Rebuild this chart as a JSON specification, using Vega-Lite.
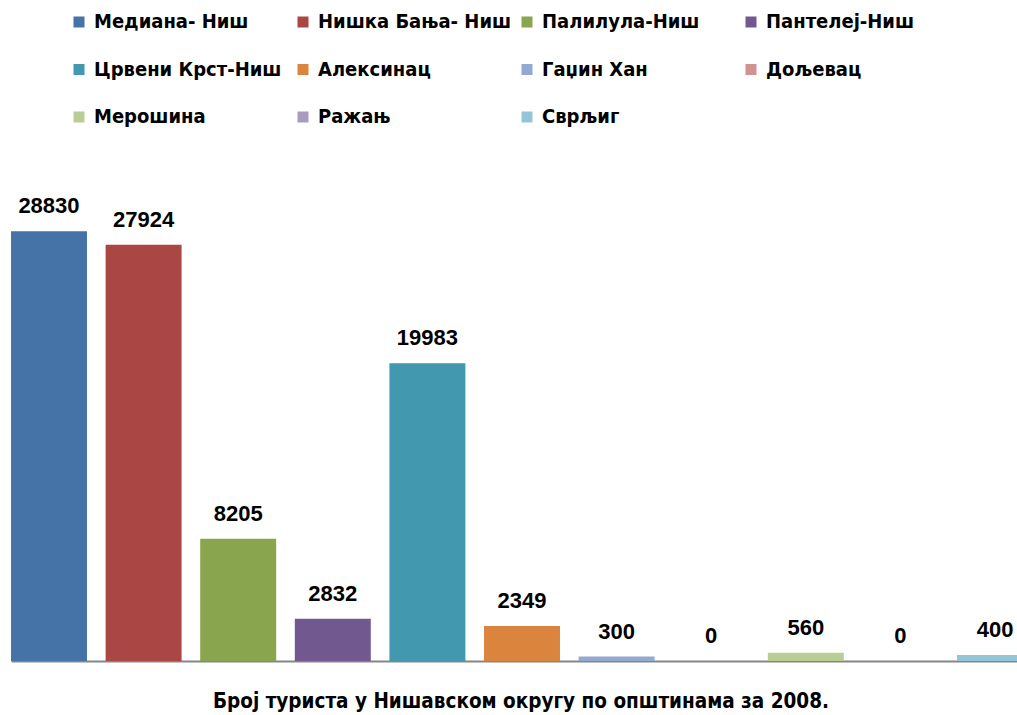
{
  "$schema": "https://vega.github.io/schema/vega-lite/v6.json",
  "width": 1006,
  "height": 477,
  "autosize": {"type": "none"},
  "padding": {"left": 11, "top": 184, "right": 0, "bottom": 54},
  "background": "white",
  "title": {
    "text": "Број туриста у Нишавском округу по општинама за 2008.",
    "orient": "bottom",
    "anchor": "middle",
    "offset": 31,
    "dx": 7,
    "font": "DejaVu Sans Condensed, sans-serif",
    "fontSize": 20.5,
    "fontWeight": "bold",
    "color": "black"
  },
  "data": {
    "values": [
      {"opstina": "Медиана- Ниш", "turisti": 28830},
      {"opstina": "Нишка Бања- Ниш", "turisti": 27924},
      {"opstina": "Палилула-Ниш", "turisti": 8205},
      {"opstina": "Пантелеј-Ниш", "turisti": 2832},
      {"opstina": "Црвени Крст-Ниш", "turisti": 19983},
      {"opstina": "Алексинац", "turisti": 2349},
      {"opstina": "Гаџин Хан", "turisti": 300},
      {"opstina": "Дољевац", "turisti": 0},
      {"opstina": "Мерошина", "turisti": 560},
      {"opstina": "Ражањ", "turisti": 0},
      {"opstina": "Сврљиг", "turisti": 400}
    ]
  },
  "encoding": {
    "x": {
      "field": "opstina",
      "type": "nominal",
      "sort": null,
      "scale": {"range": [0, 1022], "paddingInner": 0.197, "paddingOuter": 0},
      "axis": {"labels": false, "ticks": false, "title": null, "domainColor": "#868686", "domainWidth": 2, "grid": false}
    },
    "y": {
      "field": "turisti",
      "type": "quantitative",
      "scale": {"domain": [0, 32000]},
      "axis": null
    }
  },
  "layer": [
    {
      "mark": {"type": "bar"},
      "encoding": {
        "color": {
          "field": "opstina",
          "type": "nominal",
          "sort": null,
          "scale": {
            "range": ["#4572A7", "#AA4643", "#89A54E", "#71588F", "#4198AF", "#DB843D", "#93A9CF", "#D19392", "#B9CD96", "#A99BBD", "#92C5D8"]
          },
          "legend": {
            "orient": "none",
            "direction": "horizontal",
            "legendX": 58,
            "legendY": -172,
            "columns": 4,
            "title": null,
            "symbolType": "square",
            "symbolSize": 121,
            "symbolStrokeWidth": 0,
            "symbolOpacity": 1,
            "labelFont": "DejaVu Sans Condensed, sans-serif",
            "labelFontSize": 20,
            "labelFontWeight": "bold",
            "labelColor": "black",
            "labelOffset": 5,
            "labelLimit": 400,
            "rowPadding": 27.5,
            "columnPadding": 5,
            "gridAlign": "all",
            "padding": 0
          }
        }
      }
    },
    {
      "mark": {
        "type": "text",
        "baseline": "alphabetic",
        "dy": -18,
        "font": "Liberation Sans, Arial, sans-serif",
        "fontSize": 22,
        "fontWeight": "bold",
        "color": "black"
      },
      "encoding": {
        "text": {"field": "turisti", "type": "quantitative", "format": "d"}
      }
    }
  ],
  "config": {"view": {"stroke": null}}
}
